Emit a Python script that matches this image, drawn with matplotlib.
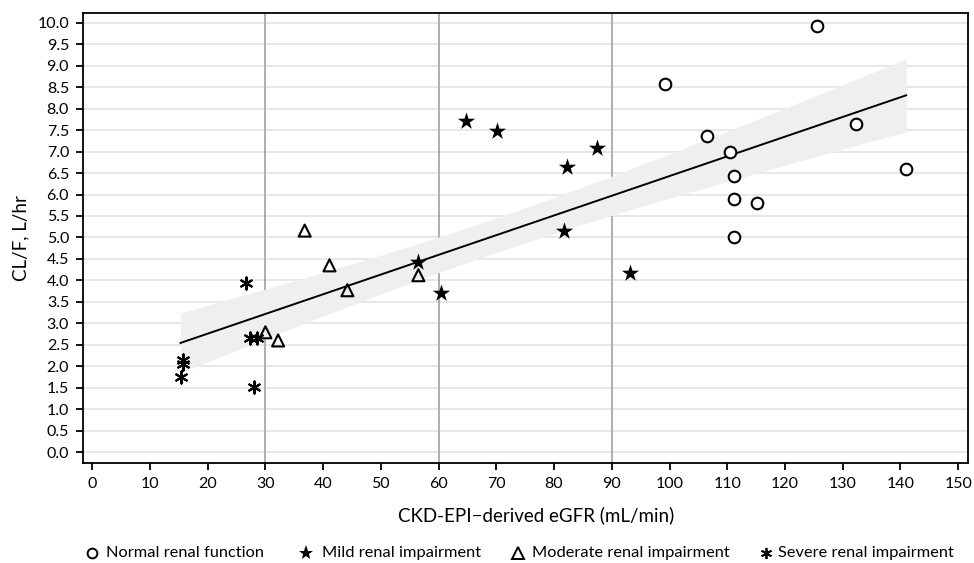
import matplotlib
matplotlib.use("Agg")
import matplotlib.pyplot as plt
from matplotlib.lines import Line2D
import numpy as np

plt.rcParams['font.family'] = ['Lato', 'DejaVu Sans']

# eGFR (mL/min) and CL/F (L/hr) per renal-function group
normal_x = [99.2, 125.5, 106.5, 110.5, 132.3, 141.0, 111.2, 111.2, 115.1, 111.2]
normal_y = [8.58, 9.93, 7.37, 7.00, 7.65, 6.60, 6.44, 5.90, 5.81, 5.02]
mild_x = [64.7, 70.2, 87.4, 82.2, 81.7, 93.1, 56.4, 60.5]
mild_y = [7.72, 7.47, 7.09, 6.63, 5.14, 4.16, 4.42, 3.70]
moderate_x = [36.8, 41.1, 44.2, 56.5, 30.0, 32.2]
moderate_y = [5.16, 4.35, 3.77, 4.12, 2.79, 2.60]
severe_x = [26.7, 27.4, 28.6, 15.7, 15.7, 15.3, 28.1]
severe_y = [3.95, 2.65, 2.65, 2.14, 2.05, 1.74, 1.51]

group_labels = ["Normal renal function", "Mild renal impairment",
                "Moderate renal impairment", "Severe renal impairment"]

ref_lines = [30, 60, 90]
t_crit = 1.699  # t(0.95, df=29), 90% band

# linear fit with confidence band for the mean
all_x = np.array(normal_x + mild_x + moderate_x + severe_x)
all_y = np.array(normal_y + mild_y + moderate_y + severe_y)
n = len(all_x)
slope, intercept = np.polyfit(all_x, all_y, 1)
resid = all_y - (slope * all_x + intercept)
s = np.sqrt(np.sum(resid ** 2) / (n - 2))
sxx = np.sum((all_x - all_x.mean()) ** 2)
xs = np.linspace(all_x.min(), all_x.max(), 200)
fit = slope * xs + intercept
half = t_crit * s * np.sqrt(1 / n + (xs - all_x.mean()) ** 2 / sxx)

fig = plt.figure(figsize=(9.74, 5.63), dpi=100)
ax = fig.add_axes([0.0852, 0.1776, 0.9086, 0.7993])

ax.set_xlim(-1.6, 151.7)
ax.set_ylim(-0.256, 10.23)
yt = np.arange(0, 10.01, 0.5)
ax.set_yticks(yt)
ax.set_yticklabels([f"{v:.1f}" for v in yt])
ax.set_xticks(np.arange(0, 151, 10))

for yv in yt:
    ax.axhline(yv, color="#e3e3e3", lw=1.2, zorder=0)
for xv in ref_lines:
    ax.axvline(xv, color="#a8a8a8", lw=1.3, zorder=1)

ax.fill_between(xs, fit - half, fit + half, color="#efefef", lw=0, zorder=2)
ax.plot(xs, fit, color="black", lw=1.4, zorder=3)

styles = [
    dict(marker="o", s=70, facecolors="white", edgecolors="black", linewidths=1.5),
    dict(marker="*", s=170, color="black", linewidths=0),
    dict(marker="^", s=75, facecolors="none", edgecolors="black", linewidths=1.5),
    dict(marker=(6, 2, 0), s=75, color="black", linewidths=1.5),
]
series = [(normal_x, normal_y), (mild_x, mild_y),
          (moderate_x, moderate_y), (severe_x, severe_y)]
for (gx, gy), st, lab in zip(series, styles, group_labels):
    ax.scatter(gx, gy, zorder=4, label=lab, **st)

for sp in ax.spines.values():
    sp.set_linewidth(1.3)
ax.tick_params(direction="out", length=5, width=1.3, labelsize=11.5,
               color="black", pad=5)

ax.set_xlabel("CKD-EPI\u2212derived eGFR (mL/min)", fontsize=13.5)
ax.xaxis.set_label_coords(0.512, -0.095)
ax.set_ylabel("CL/F, L/hr", fontsize=13.5, labelpad=6)

# legend row below the plot
leg_marker_x = [92, 306, 518, 766]
leg_text_x = [106, 322, 532, 778]
leg_y = 1 - 553 / 563
leg_markers = [
    dict(marker="o", ms=7, mfc="white", mec="black", mew=1.4),
    dict(marker="*", ms=11, mfc="black", mec="black", mew=0),
    dict(marker="^", ms=8, mfc="white", mec="black", mew=1.4),
    dict(marker=(6, 2, 0), ms=8, color="black", mew=1.3),
]
for mx, tx, mk, lab in zip(leg_marker_x, leg_text_x, leg_markers, group_labels):
    fig.add_artist(Line2D([mx / 974], [leg_y], transform=fig.transFigure,
                          linestyle="none", **mk))
    fig.text(tx / 974, leg_y, lab, fontsize=11.8, ha="left", va="center")

fig.savefig("out.png", dpi=100)
